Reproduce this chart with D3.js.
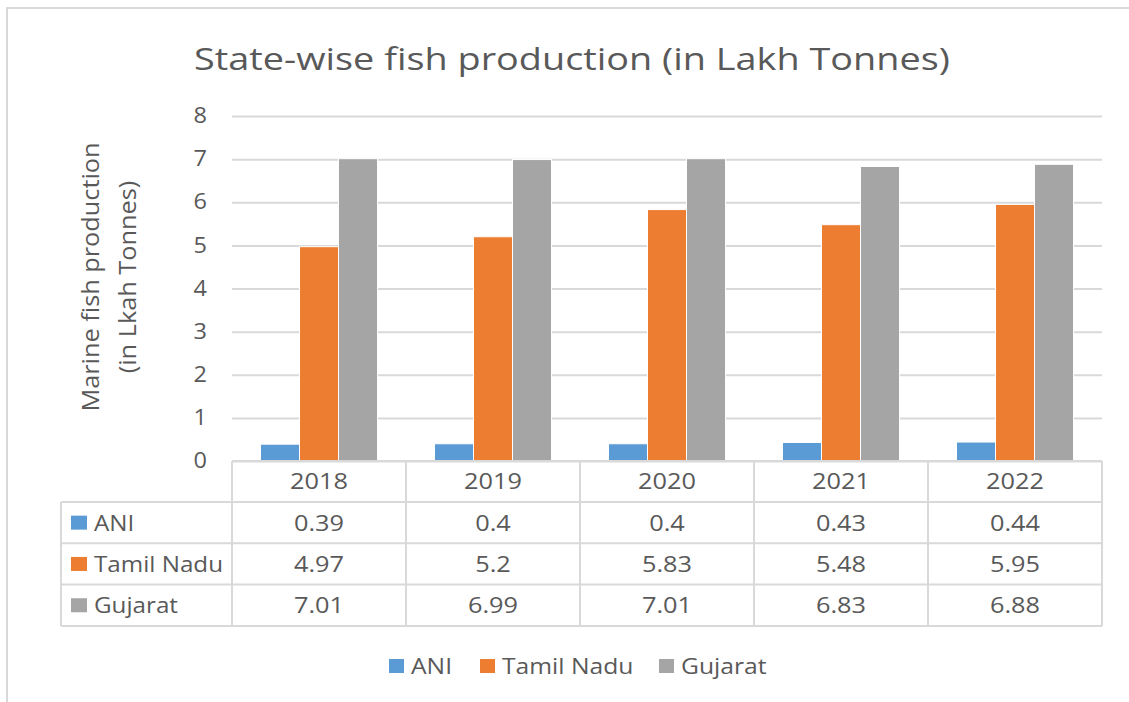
<!DOCTYPE html>
<html lang="en">

<head>
    <meta charset="UTF-8">
    <script src="https://cdn.jsdelivr.net/npm/d3@7"></script>
    <title>State-wise fish production</title>
    <style>
        body { margin: 0; background: #fff; }
        text { font-family: "Open Sans", sans-serif; fill: #595959; }
    </style>
</head>

<body>
</body>
<script>
    var years = ["2018", "2019", "2020", "2021", "2022"];
    var seriesNames = ["ANI", "Tamil Nadu", "Gujarat"];
    var ani = [0.39, 0.4, 0.4, 0.43, 0.44];
    var tamilNadu = [4.97, 5.2, 5.83, 5.48, 5.95];
    var gujarat = [7.01, 6.99, 7.01, 6.83, 6.88];
    var yTicks = [0, 1, 2, 3, 4, 5, 6, 7, 8];
    var colors = ["#5b9bd5", "#ed7d31", "#a5a5a5"];

    var width = 1129, height = 702;
    var plot = { left: 232, right: 1102, top: 116, bottom: 461 };
    var table = { left: 61, headerH: 41, rowH: 41.3 };
    var gridColor = "#d9d9d9";

    var seriesValues = [ani, tamilNadu, gujarat];

    // the original picture is a bit wider than tall, so text gets stretched sideways
    var stretch = function(sel, k) {
        sel.each(function() {
            var len = this.getComputedTextLength();
            d3.select(this).attr("textLength", len * k).attr("lengthAdjust", "spacingAndGlyphs");
        });
    };

    var svg = d3.select("body").append("svg").attr("width", width).attr("height", height);

    // chart border
    svg.append("rect").attr("x", 7).attr("y", 8).attr("width", width + 20).attr("height", height + 20)
        .attr("fill", "none").attr("stroke", gridColor).attr("stroke-width", 2);

    var title = svg.append("text").attr("x", 572).attr("y", 70).attr("text-anchor", "middle")
        .attr("font-size", "31px").text("State-wise fish production (in Lakh Tonnes)");
    stretch(title, 1.22);

    var x = d3.scaleBand().domain(years).range([plot.left, plot.right]);
    var xs = d3.scaleBand().domain(seriesNames).range([0, x.bandwidth()]).paddingOuter(0.73);
    var y = d3.scaleLinear().domain([0, 8]).range([plot.bottom, plot.top]);

    var yAxis = svg.append("g").attr("transform", "translate(" + plot.left + ",0)")
        .call(d3.axisLeft(y).tickValues(yTicks).tickSize(-(plot.right - plot.left)).tickPadding(25).tickFormat(d3.format("d")));
    yAxis.select(".domain").remove();
    yAxis.selectAll(".tick line").attr("stroke", gridColor).attr("stroke-width", 2);
    yAxis.selectAll(".tick text").attr("font-size", "21px").attr("fill", "#595959").attr("font-family", "Open Sans, sans-serif");
    stretch(yAxis.selectAll(".tick text"), 1.12);

    // bars
    seriesNames.forEach(function(name, si) {
        svg.append("g").selectAll("rect").data(seriesValues[si]).enter().append("rect")
            .attr("x", function(d, i) { return x(years[i]) + xs(name); })
            .attr("y", function(d) { return y(d); })
            .attr("width", xs.bandwidth())
            .attr("height", function(d) { return y(0) - y(d); })
            .attr("fill", colors[si])
            .attr("stroke", "#fff").attr("stroke-width", 1);
    });

    // y axis title
    var ytLines = ["Marine fish production", "(in Lkah Tonnes)"];
    ytLines.forEach(function(t, i) {
        var el = svg.append("text").attr("transform", "translate(" + (99 + i * 37) + ",277) rotate(-90)")
            .attr("text-anchor", "middle").attr("font-size", "23px").text(t);
        stretch(el, 1.1);
    });

    // data table
    var tTop = plot.bottom;
    var rowTop = function(r) { return tTop + table.headerH + r * table.rowH; };
    var tBottom = rowTop(seriesNames.length);
    var tg = svg.append("g");
    var line = function(x1, y1, x2, y2) {
        tg.append("line").attr("x1", x1).attr("y1", y1).attr("x2", x2).attr("y2", y2)
            .attr("stroke", gridColor).attr("stroke-width", 2);
    };
    line(plot.left, tTop, plot.right, tTop);
    for (var r = 0; r <= seriesNames.length; r++) {
        line(table.left, rowTop(r), plot.right, rowTop(r));
    }
    line(table.left, rowTop(0), table.left, tBottom);
    x.domain().forEach(function(yr) { line(x(yr), tTop, x(yr), tBottom); });
    line(plot.right, tTop, plot.right, tBottom);

    var yrText = tg.selectAll("text.yr").data(years).enter().append("text").attr("class", "yr")
        .attr("x", function(d) { return x(d) + x.bandwidth() / 2; })
        .attr("y", tTop + table.headerH / 2).attr("dy", "0.36em")
        .attr("text-anchor", "middle").attr("font-size", "22px").text(function(d) { return d; });
    stretch(yrText, 1.15);

    seriesNames.forEach(function(name, si) {
        var cy = rowTop(si) + table.rowH / 2;
        tg.append("rect").attr("x", 71).attr("y", cy - 7).attr("width", 16).attr("height", 14).attr("fill", colors[si]);
        var lbl = tg.append("text").attr("x", 94).attr("y", cy).attr("dy", "0.36em")
            .attr("font-size", "22px").text(name);
        stretch(lbl, 1.1);
        var vals = tg.selectAll("text.v" + si).data(seriesValues[si]).enter().append("text").attr("class", "v" + si)
            .attr("x", function(d, i) { return x(years[i]) + x.bandwidth() / 2; })
            .attr("y", cy).attr("dy", "0.36em")
            .attr("text-anchor", "middle").attr("font-size", "22px").text(function(d) { return d; });
        stretch(vals, 1.15);
    });

    // legend
    var legendX = [389, 480, 659];
    var lg = svg.append("g");
    seriesNames.forEach(function(name, si) {
        lg.append("rect").attr("x", legendX[si]).attr("y", 659).attr("width", 15).attr("height", 14).attr("fill", colors[si]);
        var t = lg.append("text").attr("x", legendX[si] + 22).attr("y", 666).attr("dy", "0.36em")
            .attr("font-size", "22px").text(name);
        stretch(t, 1.12);
    });
</script>

</html>
